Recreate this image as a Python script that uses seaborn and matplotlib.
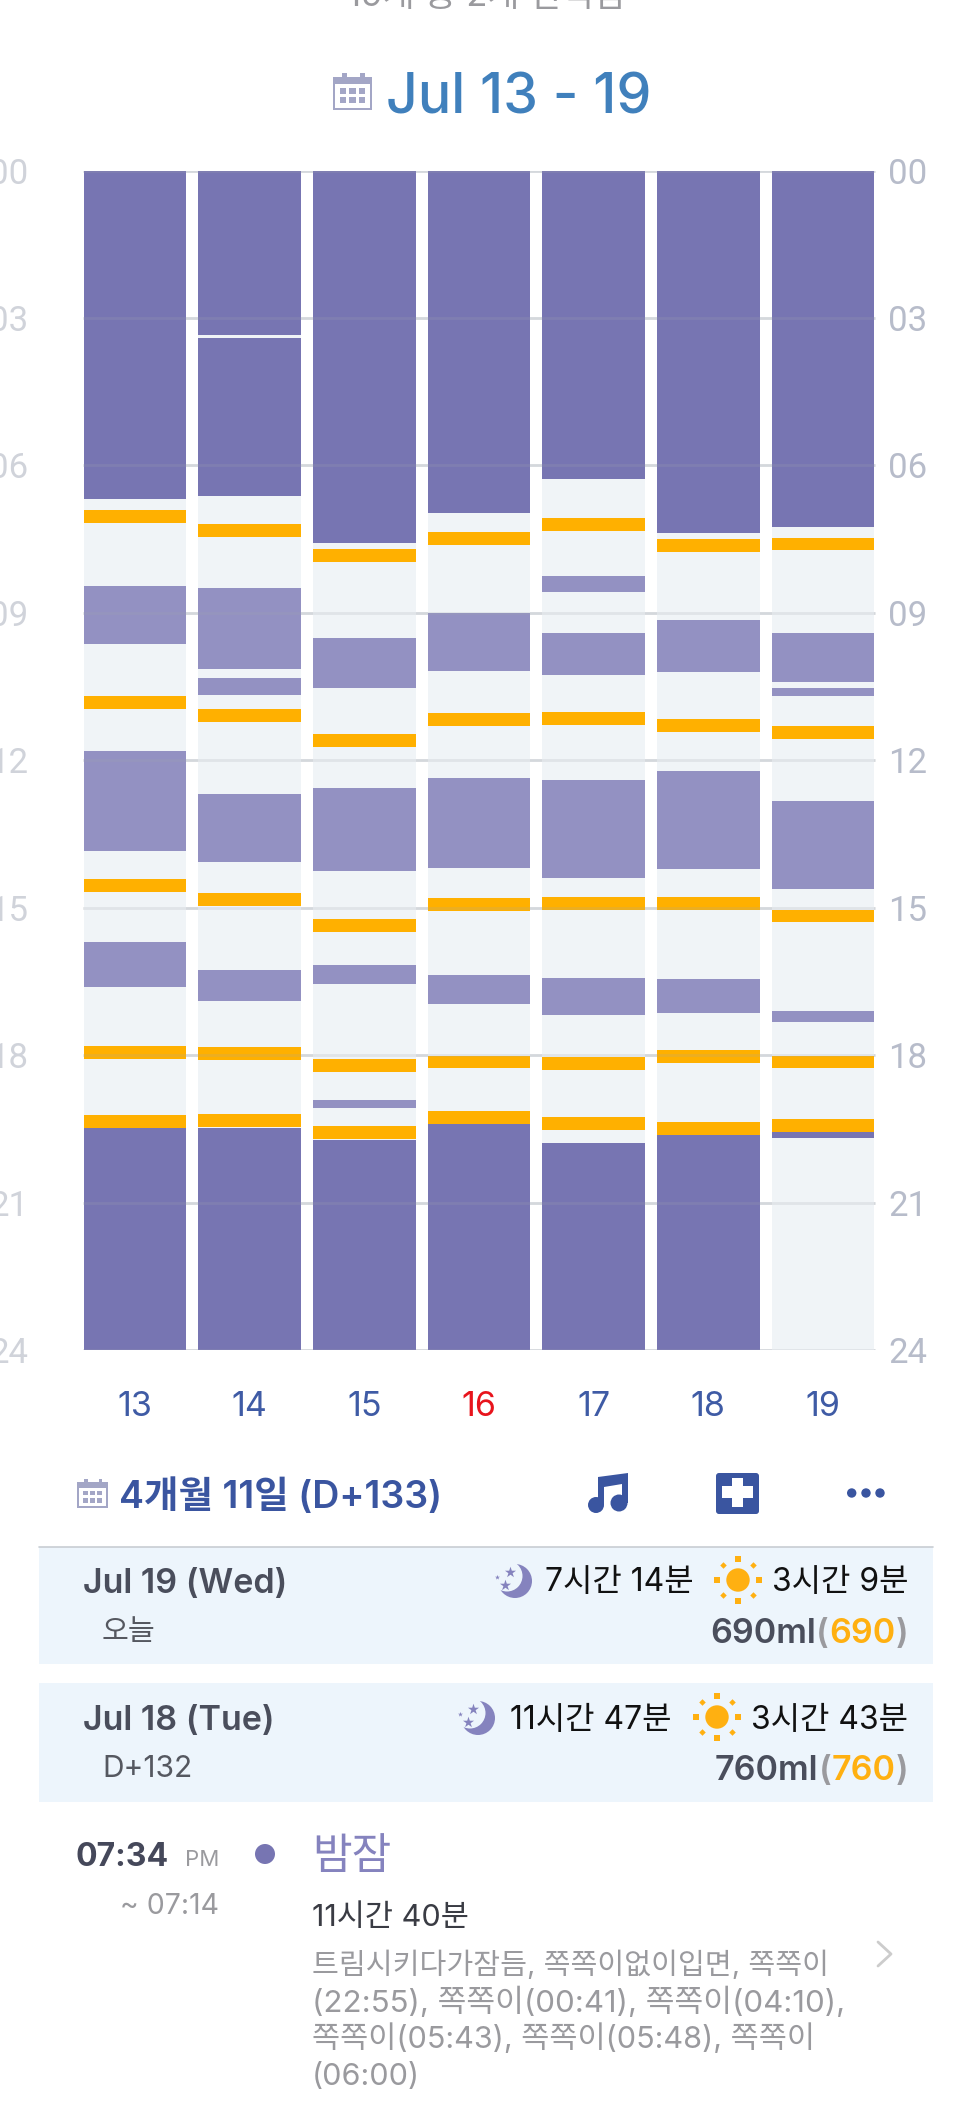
import matplotlib
matplotlib.use("Agg")
import matplotlib.pyplot as plt
import seaborn as sns
from matplotlib.patches import Circle, FancyBboxPatch, Polygon, Rectangle

# Weekly sleep log, hours since midnight
days = ["13", "14", "15", "16", "17", "18", "19"]
morning_sleep = [
    [(0, 6.676)],
    [(0, 3.342), (3.397, 6.621)],
    [(0, 7.575)],
    [(0, 6.966)],
    [(0, 6.276)],
    [(0, 7.375)],
    [(0, 7.257)],
]
evening_sleep = [
    [(19.482, 24)],
    [(19.473, 24)],
    [(19.728, 24)],
    [(19.401, 24)],
    [(19.782, 24)],
    [(19.619, 24)],
    [(19.564, 19.682)],
]
naps = [
    [(8.447, 9.628), (11.798, 13.833), (15.695, 16.603)],
    [(8.492, 10.145), (10.318, 10.672), (12.688, 14.069), (16.267, 16.903)],
    [(9.510, 10.527), (12.561, 14.242), (16.167, 16.540), (18.901, 19.064)],
    [(9.001, 10.182), (12.352, 14.187), (16.367, 16.948)],
    [(8.247, 8.574), (9.401, 10.254), (12.398, 14.387), (16.421, 17.175)],
    [(9.146, 10.200), (12.216, 14.214), (16.449, 17.139)],
    [(9.401, 10.409), (10.527, 10.699), (12.816, 14.605), (17.103, 17.312)],
]
feeds = [
    [6.903, 10.690, 14.405, 17.811, 19.219],
    [7.193, 10.963, 14.696, 17.829, 19.201],
    [7.693, 11.462, 15.232, 18.065, 19.437],
    [7.348, 11.045, 14.805, 18.002, 19.137],
    [7.066, 11.017, 14.777, 18.038, 19.255],
    [7.493, 11.153, 14.777, 17.884, 19.355],
    [7.466, 11.299, 15.032, 18.002, 19.301],
]
feed_length = 0.263
hour_ticks = [0, 3, 6, 9, 12, 15, 18, 21, 24]
hour_labels = ["00", "03", "06", "09", "12", "15", "18", "21", "24"]

NIGHT = "#7775B2"
NAP = "#9391C2"
FEED = "#FFB000"
AWAKE = "#F0F4F7"
NAVY = "#3A55A0"
SLATE = "#4A4E5C"
GREY = "#9A9A9E"
PANEL = "#EDF5FC"
ICON = "#A3A6C6"
FW, FH = 972, 2105

sns.set_theme(style="white")
FONT = ["Inter", "Noto Sans CJK KR", "DejaVu Sans"]
plt.rcParams["font.family"] = FONT

fig = plt.figure(figsize=(FW / 100, FH / 100), dpi=100, facecolor="white")
ax = fig.add_axes([77.65 / FW, 1 - 1350.4 / FH, 802.7 / FW, 1179.9 / FH])


def draw_block(day, start, end, colour):
    sns.barplot(x=[day], y=[end - start], bottom=start, order=days, color=colour,
                saturation=1, width=0.895, linewidth=0, errorbar=None, ax=ax, zorder=2)


for i, day in enumerate(days):
    draw_block(day, 0, 24, AWAKE)
    for start, end in morning_sleep[i] + evening_sleep[i]:
        draw_block(day, start, end, NIGHT)
    for start, end in naps[i]:
        draw_block(day, start, end, NAP)
    for start in feeds[i]:
        draw_block(day, start, start + feed_length, FEED)

# Hour rules: solid in the gaps between days, faint across the day columns
ax.hlines(hour_ticks, -0.45, 6.45, color="#E2E5E8", linewidth=2.0, zorder=1)
ax.hlines(hour_ticks, -0.45, 6.45, color="#A0A6AE", alpha=0.2, linewidth=2.0, zorder=5)
ax.set_xlim(-0.5, 6.5)
ax.set_ylim(24, 0)
ax.set_xlabel("")
ax.set_ylabel("")
ax.patch.set_alpha(0)
for spine in ax.spines.values():
    spine.set_visible(False)
ax.set_yticks(hour_ticks, hour_labels, family="Roboto")
ax.tick_params(axis="y", length=0, pad=35.5, labelsize=25, labelcolor="#D0D3DA")
ax.set_xticks(range(len(days)), days)
ax.tick_params(axis="x", length=0, pad=29.5, labelsize=24.5, labelcolor="#3F5BA5")
ax.get_xticklabels()[days.index("16")].set_color("#E8141C")

right = ax.twinx()
right.set_ylim(24, 0)
right.set_yticks(hour_ticks, hour_labels, family="Roboto")
right.tick_params(axis="y", length=0, pad=5.5, labelsize=25, labelcolor="#B7BCCA")
right.grid(False)
for spine in right.spines.values():
    spine.set_visible(False)

# Overlay in pixel coordinates for the app's header and list rows
ui = fig.add_axes([0, 0, 1, 1])
ui.set_xlim(0, FW)
ui.set_ylim(FH, 0)
ui.axis("off")
ui.patch.set_alpha(0)


def label(x, y, text, size, colour, ha="left", weight="normal"):
    return ui.text(x, y + 8, text, fontsize=size, color=colour, ha=ha, va="center",
                   fontweight=weight, family=FONT)


def right_runs(x, y, runs, size, weight="semibold"):
    renderer = fig.canvas.get_renderer()
    for text, colour in reversed(runs):
        t = label(x, y, text, size, colour, ha="right", weight=weight)
        x -= t.get_window_extent(renderer).width


def calendar(x0, y0, x1, y1):
    w, h = x1 - x0, y1 - y0
    ui.add_patch(Rectangle((x0, y0 + h * 0.1), w, h * 0.9, color=ICON, lw=0))
    ui.add_patch(Rectangle((x0 + w * 0.06, y0 + h * 0.3), w * 0.88, h * 0.64, color="white", lw=0))
    for tx in (0.24, 0.7):
        ui.add_patch(Rectangle((x0 + w * tx, y0), w * 0.12, h * 0.2, color=ICON, lw=0))
    for row in (0.4, 0.66):
        for col in (0.18, 0.42, 0.66):
            ui.add_patch(Rectangle((x0 + w * col, y0 + h * row), w * 0.16, h * 0.16, color=ICON, lw=0))


def moon(cx, cy):
    ui.add_patch(Circle((cx, cy), 17, color="#8583BE", lw=0))
    ui.add_patch(Circle((cx - 8, cy - 5), 15.5, color=PANEL, lw=0))
    ui.scatter([cx - 5, cx - 10], [cy - 9, cy + 4], marker="*", s=70, color="#8583BE", lw=0)
    ui.scatter([cx - 18], [cy - 4], marker="*", s=14, color="#8583BE", lw=0)


def sun(cx, cy):
    ui.add_patch(Circle((cx, cy), 11.7, color="#FFB011", lw=0))
    ui.scatter([cx, cx, cx - 21, cx + 21], [cy - 21, cy + 21, cy, cy], marker="s", s=14,
               color="#FFB011", lw=0)
    ui.scatter([cx - 15, cx + 15, cx - 15, cx + 15], [cy - 15, cy - 15, cy + 15, cy + 15],
               marker="D", s=11, color="#FFB011", lw=0)


# Header
label(486, -11, "19개 중 2개 선택됨", 25, GREY, ha="center")
calendar(333, 73, 372, 110)
label(386, 90, "Jul 13 - 19", 40, "#4080BC", weight="medium")

# Toolbar
calendar(77, 1479, 108, 1508)
label(119, 1490, "4개월 11일 (D+133)", 27, NAVY, weight="semibold")
ui.add_patch(Circle((596, 1505), 8, color=NAVY, lw=0))
ui.add_patch(Circle((619, 1503), 8.5, color=NAVY, lw=0))
ui.add_patch(Polygon([(598, 1477), (628, 1473), (628, 1503), (622, 1503), (622, 1484),
                      (604, 1487), (604, 1505), (598, 1505)], closed=True, color=NAVY, lw=0))
ui.add_patch(FancyBboxPatch((718, 1475), 39, 37, boxstyle="round,pad=2,rounding_size=3",
                            color=NAVY, lw=0))
ui.add_patch(Rectangle((722, 1486), 31, 12, color="white", lw=0))
ui.add_patch(Rectangle((732, 1478), 11, 29, color="white", lw=0))
for dot_x in (851.7, 866, 880):
    ui.add_patch(Circle((dot_x, 1493), 4.7, color=NAVY, lw=0))

# Day rows
ui.add_patch(Rectangle((39, 1546.6), 894, 117.8, color=PANEL, lw=0))
ui.plot([39, 933], [1546.5, 1546.5], color="#C8CDD3", lw=1.2)
ui.add_patch(Rectangle((39, 1683.3), 894, 118.2, color=PANEL, lw=0))

label(83, 1576, "Jul 19 (Wed)", 24.5, SLATE, weight="semibold")
label(102, 1624, "오늘", 21, "#555860")
moon(515, 1581)
label(545, 1575, "7시간 14분", 23, "#111111")
sun(738, 1580)
label(908, 1575, "3시간 9분", 23, "#111111", ha="right")
right_runs(908, 1626, [("690ml", SLATE), ("(", GREY), ("690", "#FFB011"), (")", GREY)], 24.5)

label(83, 1713, "Jul 18 (Tue)", 24.5, SLATE, weight="semibold")
label(102, 1761, "D+132", 21.5, "#555860")
moon(478, 1718)
label(510, 1712, "11시간 47분", 23, "#111111")
sun(717, 1717)
label(908, 1712, "3시간 43분", 23, "#111111", ha="right")
right_runs(908, 1763, [("760ml", SLATE), ("(", GREY), ("760", "#FFB011"), (")", GREY)], 24.5)

# Night sleep entry
label(75.5, 1849, "07:34", 23, "#45485A", weight="bold")
label(219, 1852, "PM", 16, GREY, ha="right")
label(219, 1899, "~ 07:14", 20.5, GREY, ha="right")
ui.add_patch(Circle((265, 1854), 10, color=NIGHT, lw=0))
label(312, 1849, "밤잠", 31, "#8583BE")
label(312, 1910, "11시간 40분", 22, "#3A3C44")
note_lines = [
    "트림시키다가잠듬, 쪽쪽이없이입면, 쪽쪽이",
    "(22:55), 쪽쪽이(00:41), 쪽쪽이(04:10),",
    "쪽쪽이(05:43), 쪽쪽이(05:48), 쪽쪽이",
    "(06:00)",
]
for line, line_y, line_size in zip(note_lines, (1957, 1994, 2031, 2069), (21, 22.5, 22, 22)):
    label(312, line_y, line, line_size, GREY)
ui.plot([878, 891, 878], [1942, 1954, 1966], color="#CCCCCC", lw=2)

fig.savefig("out.png", dpi=100, facecolor="white")
